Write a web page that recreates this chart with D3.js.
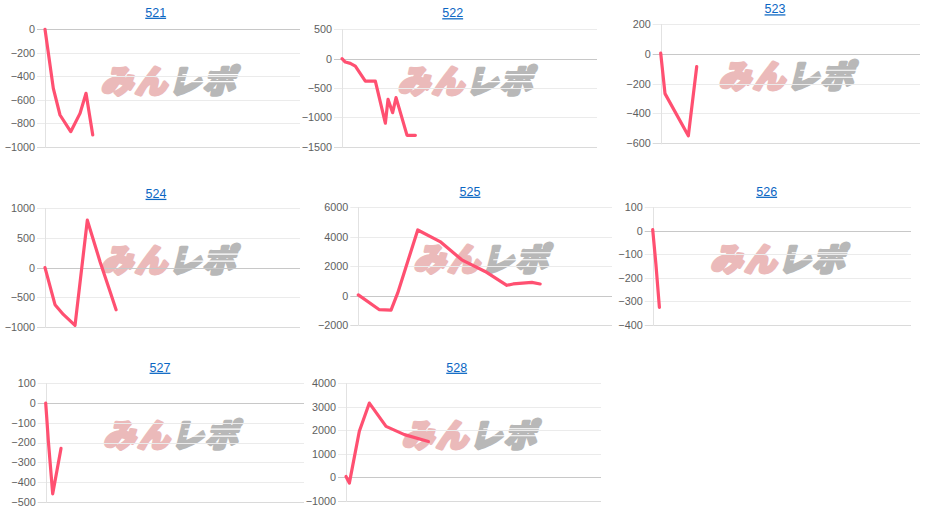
<!DOCTYPE html>
<html><head><meta charset="utf-8">
<script src="https://cdn.jsdelivr.net/npm/d3@7/dist/d3.min.js"></script>
<style>
html,body{margin:0;padding:0;background:#fff;}
svg{display:block;}
</style></head>
<body>
<svg id="c" width="926" height="519"></svg>
<script>
// ---- data ----
const titles = ["521","522","523","524","525","526","527","528"];
// x: game count, y: coin difference
const g521 = [0, 261, 471, 807, 1099, 1287, 1498];
const v521 = [0, -503, -730, -872, -716, -545, -900];
const g522 = [0, 104, 261, 418, 732, 1046, 1360, 1444, 1589, 1696, 2041, 2302];
const v522 = [0, -58, -80, -126, -382, -382, -1100, -693, -920, -664, -1307, -1307];
const g523 = [0, 135, 867, 1130];
const v523 = [5, -267, -550, -85];
const g524 = [0, 314, 575, 942, 1328, 1727, 2041, 2230];
const v524 = [0, -625, -790, -975, 800, 100, -403, -711];
const g525 = [0, 650, 1027, 1237, 1865, 2565, 3247, 3978, 4660, 4858, 5445, 5705];
const v525 = [50, -950, -990, 180, 4460, 3670, 2430, 1640, 700, 790, 900, 790];
const g526 = [0, 100, 210];
const v526 = [5, -140, -325];
const g527 = [0, 31, 82, 220, 480];
const v527 = [0, -70, -190, -460, -230];
const g528 = [0, 105, 418, 733, 1256, 1832, 2586];
const v528 = [40, -240, 1960, 3160, 2170, 1820, 1530];

const ticks521 = [0, -200, -400, -600, -800, -1000];
const ticks522 = [500, 0, -500, -1000, -1500];
const ticks523 = [200, 0, -200, -400, -600];
const ticks524 = [1000, 500, 0, -500, -1000];
const ticks525 = [6000, 4000, 2000, 0, -2000];
const ticks526 = [100, 0, -100, -200, -300, -400];
const ticks527 = [100, 0, -100, -200, -300, -400, -500];
const ticks528 = [4000, 3000, 2000, 1000, 0, -1000];
const xMaxGames = 8000;

const gamesList = [g521,g522,g523,g524,g525,g526,g527,g528];
const valuesList = [v521,v522,v523,v524,v525,v526,v527,v528];
const ticksList = [ticks521,ticks522,ticks523,ticks524,ticks525,ticks526,ticks527,ticks528];

// ---- layout ----
const layout = [
  {l:45,    r:300, t:29.3,  b:146.7, tx:155.7, ty:16.7},
  {l:342,   r:597, t:29.3,  b:146.7, tx:452.7, ty:17.2},
  {l:660.7, r:920, t:24,    b:143.3, tx:775,   ty:13.3},
  {l:45,    r:300, t:208.3, b:326.9, tx:156,   ty:197.8},
  {l:358.3, r:612, t:207.3, b:325,   tx:470,   ty:195.7},
  {l:652.7, r:911, t:207.3, b:325,   tx:766.7, ty:195.7},
  {l:45.7,  r:304, t:383.3, b:501.7, tx:160,   ty:371.7},
  {l:346,   r:601, t:383.3, b:501,   tx:456.7, ty:371.7}
];

const svg = d3.select("#c");
const lineColor = "#ff5071";

titles.forEach((title, i) => {
  const L = layout[i];
  const ticks = ticksList[i];
  const g = svg.append("g");
  const x = d3.scaleLinear().domain([0, xMaxGames]).range([L.l, L.l + 255]);
  const y = d3.scaleLinear().domain([d3.min(ticks), d3.max(ticks)]).range([L.b, L.t]);

  // watermark
  const cx = (L.l + L.r) / 2, cy = (L.t + L.b) / 2 - 10;
  const wm = g.append("g").attr("transform", `translate(${cx},${cy}) skewX(-14)`);
  const wt = wm.append("text")
    .attr("text-anchor", "middle")
    .attr("dominant-baseline", "central")
    .attr("font-family", "'Noto Sans CJK JP', sans-serif")
    .attr("font-weight", 900)
    .attr("font-size", 32)
    .attr("letter-spacing", 2)
    .attr("stroke-width", 3.2)
    .attr("stroke-linejoin", "round");
  wt.append("tspan").attr("fill", "#ebbaba").attr("stroke", "#ebbaba").text("みん");
  wt.append("tspan").attr("fill", "#b8b8b8").attr("stroke", "#b8b8b8").text("レポ");
  [-4, 3].forEach(dy => {
    wm.append("rect").attr("x", 9).attr("y", dy).attr("width", 66).attr("height", 1.2).attr("fill", "#fff");
  });

  // grid lines
  ticks.forEach(tv => {
    const yy = Math.round(y(tv)) + 0.5;
    let col = "#ebebeb";
    if (tv === 0) col = "#c8c8c8";
    else if (tv === d3.min(ticks)) col = "#dadada";
    g.append("line")
      .attr("x1", L.l - 8).attr("x2", L.r)
      .attr("y1", yy).attr("y2", yy)
      .attr("stroke", col).attr("stroke-width", 1);
  });
  // y axis vertical line
  g.append("line")
    .attr("x1", Math.round(L.l) + 0.5).attr("x2", Math.round(L.l) + 0.5)
    .attr("y1", L.t).attr("y2", L.b + 1)
    .attr("stroke", "#e2e2e2");

  // tick labels via axis
  const axis = d3.axisLeft(y).tickValues(ticks).tickSize(0).tickPadding(10).tickFormat(d3.format("d"));
  const ag = g.append("g").attr("transform", `translate(${L.l},0)`).call(axis);
  ag.select(".domain").remove();
  ag.selectAll("text")
    .attr("fill", "#5e5e5e")
    .attr("font-family", "'Liberation Sans', Arial, sans-serif")
    .attr("font-size", 10.8);

  // title
  g.append("text")
    .attr("x", L.tx).attr("y", L.ty)
    .attr("text-anchor", "middle")
    .attr("font-family", "'Liberation Sans', Arial, sans-serif")
    .attr("font-size", 12.5)
    .attr("fill", "#0b66c3")
    .attr("text-decoration", "underline")
    .text(title);

  // line
  const pts = gamesList[i].map((gv, k) => [gv, valuesList[i][k]]);
  const line = d3.line().x(d => x(d[0])).y(d => y(d[1]));
  g.append("path")
    .attr("d", line(pts))
    .attr("fill", "none")
    .attr("stroke", lineColor)
    .attr("stroke-width", 3.2)
    .attr("stroke-linejoin", "round")
    .attr("stroke-linecap", "round");
});
</script>
</body></html>
